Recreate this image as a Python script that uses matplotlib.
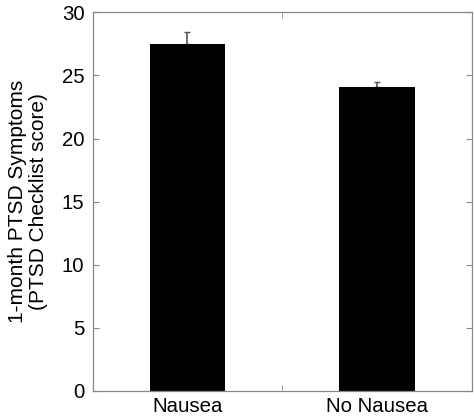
import matplotlib

matplotlib.use("Agg")
import matplotlib.pyplot as plt
import numpy as np

groups = ["Nausea", "No Nausea"]
means = [27.5, 24.06]
sem = [0.92, 0.42]
y_ticks = [0, 5, 10, 15, 20, 25, 30]

plt.rcParams["font.family"] = ["Liberation Sans", "DejaVu Sans"]

fig = plt.figure(figsize=(4.74, 4.17), dpi=100)
ax = fig.add_axes([0.1956, 0.0624, 0.7994, 0.9081])

x = np.arange(1, len(groups) + 1)
ax.bar(x, means, width=0.4, color="black", zorder=2)
ax.errorbar(x, means, yerr=[np.zeros(len(sem)), sem], fmt="none",
            ecolor="#555555", elinewidth=1.2, capsize=2.5, capthick=1.0, zorder=1)

ax.set_xlim(0.5, 2.5)
ax.set_ylim(0, 30)
ax.set_yticks(y_ticks)
ax.set_xticks(x)
ax.set_xticklabels(groups, fontsize=14.7)
ax.set_xticks([1.5], minor=True)
ax.tick_params(axis="x", which="major", length=0, pad=4)
ax.tick_params(axis="x", which="minor", direction="in", length=4, color="#888888",
               top=True, bottom=True)
ax.tick_params(axis="y", direction="in", length=4, color="#888888", right=True,
               labelsize=14.7, pad=6)

for s in ax.spines.values():
    s.set_color("#888888")
    s.set_linewidth(0.9)

ax.set_ylabel("1-month PTSD Symptoms\n(PTSD Checklist score)", fontsize=15,
              linespacing=1.15, labelpad=10)

fig.savefig("out.png", dpi=100)
